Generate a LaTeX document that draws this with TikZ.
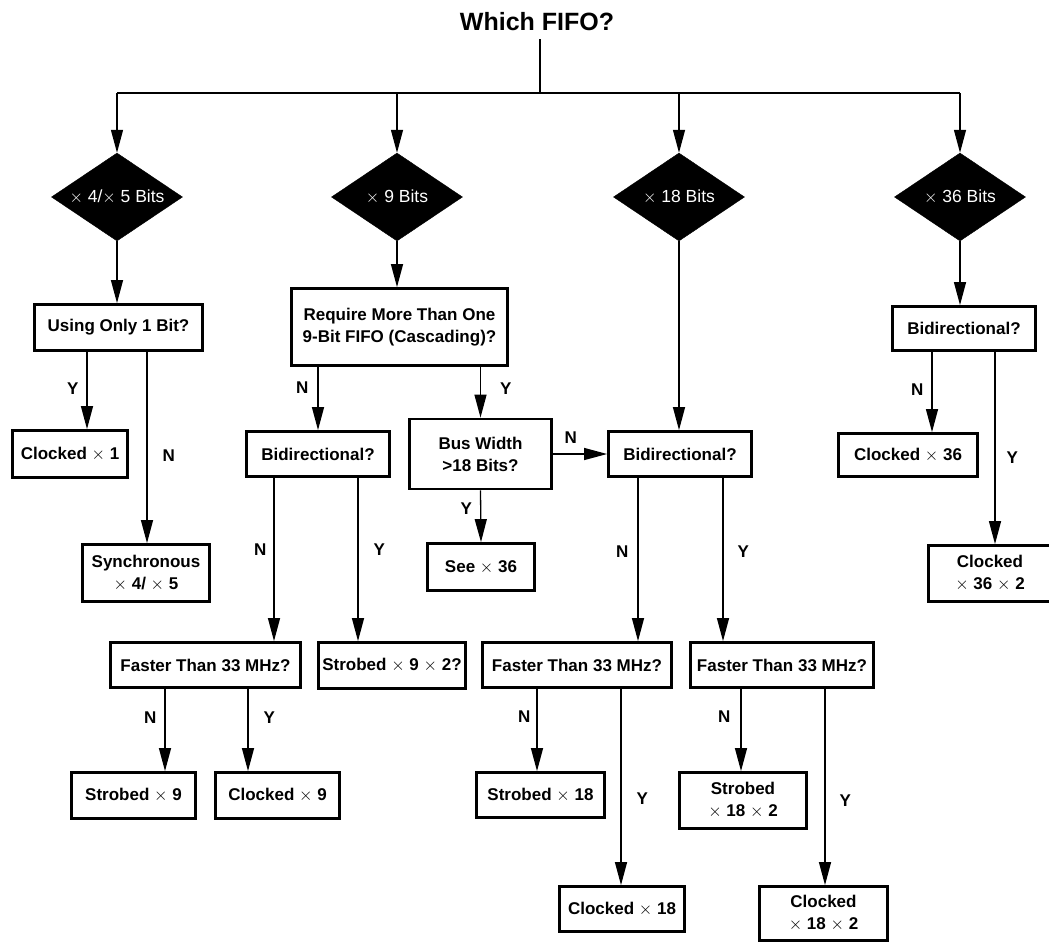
\documentclass[tikz,border=0pt]{standalone}
\usepackage{fontspec}
\setmainfont{Liberation Sans}
\usepackage{tikz}
\usetikzlibrary{shapes.geometric, arrows.meta, positioning}
\tikzset{
  >={Triangle[length=23pt, width=12pt]},
  ff line/.style={draw=black, line width=1.3pt},
  ff flow/.style={draw=black, ->, line width=1.3pt},
  ff dec/.style={diamond, draw=black, fill=black, text=white, aspect=1.49,
    inner sep=0pt, minimum width=131pt, minimum height=88pt,
    font=\fontsize{17.5}{21}\selectfont},
  ff box/.style={draw=black, fill=white, line width=2.8pt, align=center,
    inner sep=0pt, font=\fontsize{17}{22}\selectfont\bfseries},
  ff size/.style 2 args={minimum width=#1pt, minimum height=#2pt},
  ff lab/.style={inner sep=2pt, font=\fontsize{17}{20}\selectfont\bfseries},
  ff title/.style={inner sep=9pt, font=\fontsize{25}{30}\selectfont\bfseries},
}
\begin{document}
\begin{tikzpicture}[x=1pt, y=-1pt]
 \useasboundingbox (0,0) rectangle (1049,943);
 \node[ff title, anchor=base] (title) at (537,30) {Which FIFO?};
 \coordinate (bus) at (540,93);
 \node[ff dec] (dbits4) at (117,197) {$\times$ 4/$\times$ 5 Bits};
 \node[ff dec] (dbits9) at (397,197) {$\times$ 9 Bits};
 \node[ff dec] (dbits18) at (679,197) {$\times$ 18 Bits};
 \node[ff dec] (dbits36) at (960,197) {$\times$ 36 Bits};
 \node[ff box, ff size={168}{46}] (using) at (118.5,327.5) {Using Only 1 Bit?};
 \node[ff box, ff size={115}{47}] (clk1) at (70,454) {Clocked $\times$ 1};
 \node[ff box, ff size={127}{57}] (sync) at (146,573) {Synchronous\\$\times$ 4/ $\times$ 5};
 \node[ff box, ff size={216}{77}] (casc) at (399.5,327) {Require More Than One\\9-Bit FIFO (Cascading)?};
 \node[ff box, ff size={143}{45}] (bidir9) at (318,454) {Bidirectional?};
 \node[ff box, ff size={142}{70}] (buswd) at (480.5,454) {Bus Width\\>18 Bits?};
 \node[ff box, ff size={107}{47}] (see36) at (481,567) {See $\times$ 36};
 \node[ff box, ff size={143}{45}] (bidir18) at (680,454) {Bidirectional?};
 \node[ff box, ff size={143}{44}] (bidir36) at (964,328.5) {Bidirectional?};
 \node[ff box, ff size={139}{43}] (clk36) at (908,455) {Clocked $\times$ 36};
 \node[ff box, ff size={123}{56}] (clk362) at (990,573.5) {Clocked\\$\times$ 36 $\times$ 2};
 \node[ff box, ff size={190}{45}] (fast9) at (205.5,665) {Faster Than 33 MHz?};
 \node[ff box, ff size={147}{46}] (strb92) at (392,665.5) {Strobed $\times$ 9 $\times$ 2?};
 \node[ff box, ff size={189}{45}] (fast18) at (577,665) {Faster Than 33 MHz?};
 \node[ff box, ff size={183}{45}] (fast182) at (782,665) {Faster Than 33 MHz?};
 \node[ff box, ff size={124}{46}] (strb9) at (133.5,795.5) {Strobed $\times$ 9};
 \node[ff box, ff size={124}{46}] (clk9) at (277.5,795.5) {Clocked $\times$ 9};
 \node[ff box, ff size={128}{45}] (strb18) at (540.5,795) {Strobed $\times$ 18};
 \node[ff box, ff size={127}{56}] (strb182) at (743,800.5) {Strobed\\$\times$ 18 $\times$ 2};
 \node[ff box, ff size={125}{45}] (clk18) at (622,909) {Clocked $\times$ 18};
 \node[ff box, ff size={128}{54}] (clk182) at (823.5,913.5) {Clocked\\$\times$ 18 $\times$ 2};
 \draw[ff line] (title.south -| bus) -- (bus);
 \draw[ff line] (dbits4 |- bus) -- (dbits36 |- bus);
 \foreach \d in {dbits4, dbits9, dbits18, dbits36}
   \draw[ff flow] (\d |- bus) -- (\d.north);
 \draw[ff flow] (dbits4.south) -- (dbits4.south |- using.north);
 \draw[ff flow] ([xshift=-31.5pt]using.south) -- node[ff lab, left=6pt, pos=0.47] {Y}
   ([xshift=-31.5pt]using.south |- clk1.north);
 \draw[ff flow] ([xshift=28.5pt]using.south) -- node[ff lab, right=13pt, pos=0.54] {N}
   ([xshift=28.5pt]using.south |- sync.north);
 \draw[ff flow] (dbits9.south) -- (dbits9.south |- casc.north);
 \draw[ff flow] (bidir9 |- casc.south) -- node[ff lab, left=7pt, pos=0.33] {N} (bidir9.north);
 \draw[ff flow] (buswd |- casc.south) -- node[ff lab, right=17pt, pos=0.42] {Y} (buswd.north);
 \draw[ff flow] (buswd.south) -- node[ff lab, left=6pt, pos=0.35] {Y} (see36.north);
 \draw[ff flow] (buswd.east) -- node[ff lab, above=8pt, pos=0.33] {N} (buswd.east -| bidir18.west);
 \draw[ff flow] (dbits18.south) -- (dbits18.south |- bidir18.north);
 \draw[ff flow] ([xshift=-44pt]bidir9.south) -- node[ff lab, left=5pt, pos=0.44] {N}
   ([xshift=-44pt]bidir9.south |- fast9.north);
 \draw[ff flow] ([xshift=40pt]bidir9.south) -- node[ff lab, right=13pt, pos=0.44] {Y}
   ([xshift=40pt]bidir9.south |- strb92.north);
 \draw[ff flow] ([xshift=-42pt]bidir18.south) -- node[ff lab, left=7pt, pos=0.45] {N}
   ([xshift=-42pt]bidir18.south |- fast18.north);
 \draw[ff flow] ([xshift=43pt]bidir18.south) -- node[ff lab, right=12pt, pos=0.45] {Y}
   ([xshift=43pt]bidir18.south |- fast182.north);
 \draw[ff flow] (dbits36.south) -- (dbits36.south |- bidir36.north);
 \draw[ff flow] ([xshift=-32pt]bidir36.south) -- node[ff lab, left=6pt, pos=0.47] {N}
   ([xshift=-32pt]bidir36.south |- clk36.north);
 \draw[ff flow] ([xshift=31pt]bidir36.south) -- node[ff lab, right=9pt, pos=0.55] {Y}
   ([xshift=31pt]bidir36.south |- clk362.north);
 \draw[ff flow] ([xshift=-40.5pt]fast9.south) -- node[ff lab, left=6pt, pos=0.35] {N}
   ([xshift=-40.5pt]fast9.south |- strb9.north);
 \draw[ff flow] ([xshift=42.5pt]fast9.south) -- node[ff lab, right=13pt, pos=0.35] {Y}
   ([xshift=42.5pt]fast9.south |- clk9.north);
 \draw[ff flow] ([xshift=-40pt]fast18.south) -- node[ff lab, left=4pt, pos=0.34] {N}
   ([xshift=-40pt]fast18.south |- strb18.north);
 \draw[ff flow] ([xshift=44pt]fast18.south) -- node[ff lab, right=13pt, pos=0.56] {Y}
   ([xshift=44pt]fast18.south |- clk18.north);
 \draw[ff flow] ([xshift=-41pt]fast182.south) -- node[ff lab, left=8pt, pos=0.34] {N}
   ([xshift=-41pt]fast182.south |- strb182.north);
 \draw[ff flow] ([xshift=43pt]fast182.south) -- node[ff lab, right=12pt, pos=0.57] {Y}
   ([xshift=43pt]fast182.south |- clk182.north);
\end{tikzpicture}
\end{document}
